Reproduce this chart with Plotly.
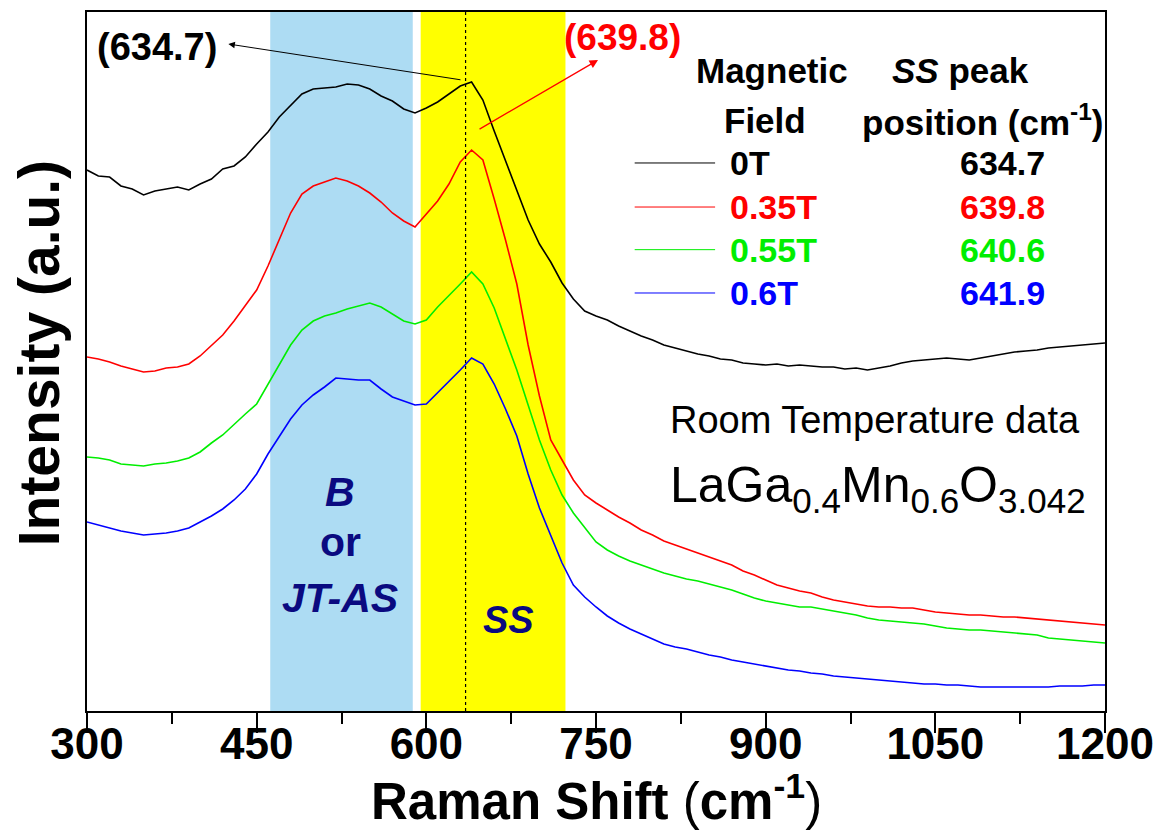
import plotly.graph_objects as go

# Raman shift grid (cm^-1)
shift = list(range(300, 1201, 10))

# Intensities (a.u.) (offset-stacked spectra)
int_0T = [541, 535, 534, 525, 522, 516, 520, 522, 524, 521, 527, 532, 542, 545, 554, 567, 579, 594, 606, 617,
          622, 623, 624, 627, 626, 622, 615, 610, 602, 598, 603, 609, 617, 625, 629, 611, 580, 551, 520, 491,
          467, 449, 428, 412, 400, 395, 391, 385, 380, 375, 371, 366, 363, 360, 357, 355, 352, 351, 348, 347,
          346, 347, 345, 346, 345, 344, 344, 342, 343, 341, 343, 345, 348, 350, 351, 352, 353, 352, 351, 353,
          355, 357, 359, 360, 361, 363, 364, 365, 366, 367, 368]
int_035T = [354, 352, 349, 345, 342, 339, 340, 343, 344, 347, 355, 365, 376, 390, 405, 421, 445, 471, 498, 517,
            525, 529, 533, 530, 525, 518, 509, 498, 490, 484, 497, 510, 527, 549, 561, 551, 512, 471, 427, 366,
            315, 271, 251, 231, 216, 208, 201, 194, 188, 181, 176, 170, 166, 162, 158, 154, 150, 146, 140, 136,
            131, 126, 123, 120, 118, 114, 111, 109, 107, 105, 104, 104, 103, 103, 101, 99, 98, 97, 96, 96,
            95, 94, 94, 93, 92, 91, 90, 89, 88, 87, 86]
int_055T = [254, 253, 251, 247, 246, 245, 247, 248, 250, 253, 259, 268, 276, 287, 297, 307, 327, 347, 366, 381,
            390, 395, 398, 402, 405, 408, 404, 397, 390, 387, 391, 404, 415, 427, 439, 427, 403, 373, 341, 306,
            271, 241, 216, 198, 183, 169, 161, 155, 150, 146, 142, 138, 135, 132, 130, 127, 124, 121, 117, 113,
            110, 108, 106, 104, 104, 102, 100, 98, 96, 93, 91, 90, 89, 88, 87, 85, 83, 82, 81, 81,
            80, 79, 78, 77, 76, 73, 72, 71, 70, 69, 68]
int_06T = [189, 186, 183, 180, 178, 176, 177, 178, 180, 183, 189, 195, 202, 211, 222, 237, 257, 275, 292, 306,
           316, 324, 333, 332, 331, 331, 322, 314, 310, 306, 307, 318, 329, 341, 353, 347, 327, 302, 275, 237,
           203, 175, 148, 126, 114, 104, 95, 88, 82, 77, 72, 67, 64, 62, 59, 56, 54, 51, 49, 47,
           45, 43, 41, 40, 38, 37, 35, 34, 33, 32, 31, 30, 29, 28, 27, 27, 26, 26, 25, 24,
           24, 24, 24, 24, 24, 24, 25, 25, 25, 26, 26]

series_names = ["0T", "0.35T", "0.55T", "0.6T"]
series_colors = ["#000000", "#FF0000", "#00EE00", "#0000FF"]
peak_positions = ["634.7", "639.8", "640.6", "641.9"]
series_values = [int_0T, int_035T, int_055T, int_06T]

# shaded band limits (cm^-1)
band_B = (462, 588)
band_SS = (595, 723)
peak_0T = 634.7

x_ticks = [300, 450, 600, 750, 900, 1050, 1200]

FONT = "Liberation Sans, Arial, sans-serif"

fig = go.Figure()
for name, col, vals in zip(series_names, series_colors, series_values):
    fig.add_trace(go.Scatter(x=shift, y=vals, mode="lines", name=name,
                             line=dict(color=col, width=1.6), showlegend=False))

shapes = [
    dict(type="rect", xref="x", yref="paper", x0=band_B[0], x1=band_B[1], y0=0, y1=1,
         fillcolor="#ADDCF3", line=dict(width=0), layer="below"),
    dict(type="rect", xref="x", yref="paper", x0=band_SS[0], x1=band_SS[1], y0=0, y1=1,
         fillcolor="#FFFF00", line=dict(width=0), layer="below"),
    dict(type="line", xref="x", yref="paper", x0=peak_0T, x1=peak_0T, y0=0, y1=1,
         line=dict(color="black", width=1.2, dash="dot")),
]


def txt(x, y, text, size, color="black", xanchor="center", xref="paper", **kw):
    return dict(xref=xref, yref="paper", x=x, y=y, text=text, showarrow=False,
                xanchor=xanchor, yanchor="middle",
                font=dict(family=FONT, size=size, color=color), **kw)


# legend table
row_y = [0.784, 0.721, 0.660, 0.598]
annotations = []
for name, col, pk, ry in zip(series_names, series_colors, peak_positions, row_y):
    shapes.append(dict(type="line", xref="paper", yref="paper", x0=0.538, x1=0.617, y0=ry, y1=ry,
                       line=dict(color=col, width=1)))
    annotations.append(txt(0.630, ry, f"<b>{name}</b>", 34, col, xanchor="left"))
    annotations.append(txt(0.856, ry, f"<b>{pk}</b>", 34, col, xanchor="left"))

annotations += [
    txt(0.673, 0.917, "<b>Magnetic</b>", 35),
    txt(0.666, 0.845, "<b>Field</b>", 35),
    txt(0.858, 0.917, "<b><i>SS</i> peak</b>", 35),
    txt(0.880, 0.845, "<b>position (cm<sup>-1</sup>)</b>", 35),
    txt(0.571, 0.416, "Room Temperature data", 38, xanchor="left"),
    txt(0.571, 0.318, "LaGa<sub>0.4</sub>Mn<sub>0.6</sub>O<sub>3.042</sub>", 50, xanchor="left"),
    # band labels
    txt(523.7, 0.313, "<b><i>B</i></b>", 41, "#0A0A80", xref="x"),
    txt(523.7, 0.242, "<b>or</b>", 41, "#0A0A80", xref="x"),
    txt(523.7, 0.162, "<b><i>JT-AS</i></b>", 41, "#0A0A80", xref="x"),
    txt(672.2, 0.130, "<b><i>SS</i></b>", 38, "#0A0A80", xref="x"),
    # peak callouts
    txt(0.069, 0.950, "<b>(634.7)</b>", 38),
    txt(0.526, 0.963, "<b>(639.8)</b>", 37, "#FF0000"),
    # axis titles
    txt(0.5, -0.124, "<b>Raman Shift </b>(<b>cm<sup>-1</sup></b>)", 51),
    txt(-0.047, 0.512, "<b>Intensity (a.u.)</b>", 57, textangle=-90),
    # arrows
    dict(xref="x", yref="y", x=425, y=667, ax=631.5, ay=631, axref="x", ayref="y", text="",
         showarrow=True, arrowhead=2, arrowsize=1.3, arrowwidth=1, arrowcolor="black"),
    dict(xref="x", yref="y", x=751.8, y=651, ax=645.7, ay=581, axref="x", ayref="y", text="",
         showarrow=True, arrowhead=2, arrowsize=1.3, arrowwidth=1.3, arrowcolor="#FF0000"),
]

fig.update_layout(
    width=1169, height=839,
    margin=dict(l=79, r=72, t=4, b=136, autoexpand=False),
    paper_bgcolor="white", plot_bgcolor="white",
    shapes=shapes, annotations=annotations,
    font=dict(family=FONT, color="black"),
    xaxis=dict(range=[300, 1200], tickvals=x_ticks, ticktext=[f"<b>{t}</b>" for t in x_ticks],
               ticks="outside", ticklen=20, tickwidth=2, tickcolor="black", ticklabelstandoff=-27,
               minor=dict(dtick=75, tick0=300, ticks="outside", ticklen=11, tickwidth=2, tickcolor="black"),
               showline=True, linewidth=2, linecolor="black", mirror=True, showgrid=False, zeroline=False,
               tickfont=dict(family=FONT, size=44, color="black"), automargin=False),
    yaxis=dict(range=[0, 699], showticklabels=False, ticks="", showgrid=False, zeroline=False,
               showline=True, linewidth=2, linecolor="black", mirror=True, automargin=False),
)

fig.write_html("out.html")
